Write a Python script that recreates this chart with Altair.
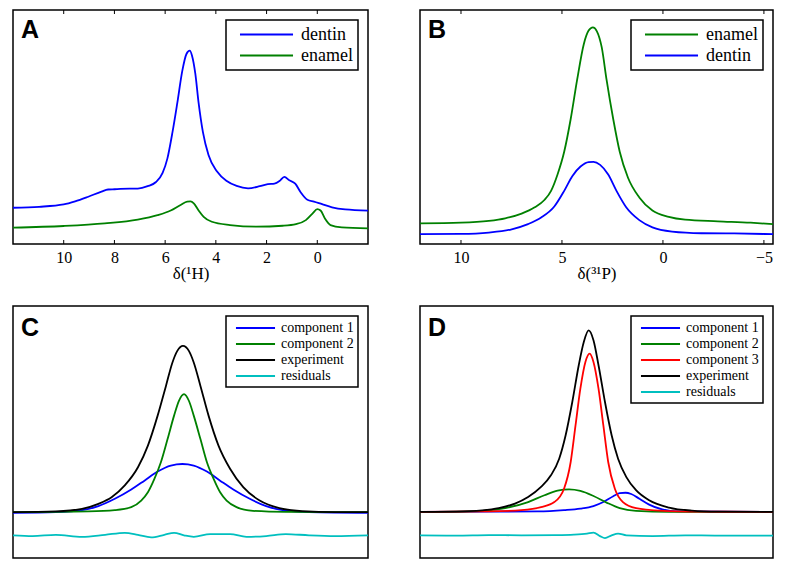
import altair as alt
import pandas as pd

# ---------------- Panel A : 1H spectra ----------------
a_dentin_x = [12.0, 10.97, 10.0, 9.55, 9.03, 8.51, 8.25, 7.99, 7.40, 7.08, 6.69, 6.36, 6.10, 5.91,
              5.71, 5.52, 5.32, 5.16, 5.03, 4.94, 4.81, 4.68, 4.51, 4.29, 3.96, 3.57, 3.18, 2.73,
              2.27, 1.95, 1.69, 1.49, 1.30, 1.10, 0.87, 0.65, 0.39, 0.13, -0.19, -0.58, -1.10, -2.0]
a_dentin_y = [15.5, 15.9, 16.9, 18.2, 20.2, 22.4, 23.3, 23.4, 23.7, 23.7, 24.7, 26.5, 30.4, 36.6,
              47.8, 60.3, 74.2, 81.2, 82.6, 80.5, 72.8, 60.3, 47.8, 38.0, 31.1, 26.9, 24.8, 23.8,
              24.7, 25.6, 25.8, 26.9, 28.7, 27.2, 25.8, 22.0, 18.9, 18.1, 17.0, 15.7, 14.8, 14.3]
a_enamel_x = [12.0, 10.0, 8.38, 7.08, 6.30, 5.78, 5.39, 5.13, 5.0, 4.87, 4.68, 4.48, 4.16, 3.44,
              2.40, 1.36, 0.84, 0.45, 0.19, 0.0, -0.13, -0.30, -0.52, -0.97, -2.0]
a_enamel_y = [7.0, 7.7, 8.8, 10.4, 12.3, 14.3, 16.7, 18.1, 18.2, 17.4, 14.3, 11.6, 9.5, 8.1,
              7.4, 7.8, 8.5, 10.2, 13.0, 14.9, 14.3, 10.9, 8.1, 7.1, 6.7]

# ---------------- Panel B : 31P spectra ----------------
b_enamel_x = [12.03, 10.0, 8.62, 7.81, 7.00, 6.35, 5.87, 5.54, 5.22, 4.89, 4.57, 4.25, 3.92, 3.68,
              3.47, 3.27, 3.03, 2.79, 2.46, 2.14, 1.73, 1.17, 0.52, -0.29, -1.10, -2.72, -4.34, -5.45]
b_enamel_y = [8.8, 9.1, 9.9, 11.0, 13.0, 15.7, 18.8, 22.7, 29.7, 39.4, 53.3, 70.1, 85.4, 91.2,
              92.6, 90.9, 84.0, 70.1, 53.3, 39.4, 28.3, 19.9, 14.3, 11.6, 10.4, 9.7, 9.1, 8.5]
b_dentin_x = [12.03, 10.0, 8.62, 7.49, 6.68, 6.03, 5.38, 4.89, 4.49, 4.08, 3.68, 3.44, 3.11, 2.71,
              2.30, 1.82, 1.17, 0.52, -0.45, -1.91, -3.53, -5.45]
b_dentin_y = [4.2, 4.3, 4.9, 6.3, 8.5, 11.3, 16.0, 22.7, 29.0, 33.1, 35.0, 35.1, 33.8, 29.7,
              22.7, 15.7, 10.2, 7.1, 5.3, 4.6, 4.5, 4.2]

# ---------------- Panel C : two-component fit ----------------
c_exp_x = [12.0, 9.89, 8.60, 7.79, 7.14, 6.49, 5.84, 5.35, 4.87, 4.46, 4.14, 3.90, 3.62, 3.33,
           3.09, 2.76, 2.36, 1.87, 1.30, 0.65, -0.16, -1.13, -2.26, -3.88, -5.5]
c_exp_y = [18.2, 18.5, 19.5, 21.5, 24.1, 28.8, 36.0, 44.6, 56.5, 68.3, 77.6, 82.2, 84.2, 82.2,
           77.6, 68.3, 56.5, 44.6, 35.4, 28.1, 22.8, 19.8, 18.6, 18.2, 18.2]
c_comp2_x = [12.0, 8.27, 6.98, 6.17, 5.68, 5.35, 5.03, 4.71, 4.38, 4.06, 3.82, 3.57, 3.33, 3.09,
             2.76, 2.44, 2.11, 1.79, 1.47, 0.98, 0.17, -1.45, -5.5]
c_comp2_y = [18.2, 18.5, 19.0, 20.2, 22.8, 26.1, 31.4, 38.0, 47.2, 56.5, 62.4, 65.0, 62.4, 56.5,
             47.2, 38.0, 31.4, 26.1, 22.8, 20.2, 18.7, 18.3, 18.2]
c_comp1_x = [12.0, 9.89, 8.60, 7.79, 6.98, 6.17, 5.52, 4.87, 4.22, 3.65, 3.09, 2.44, 1.79, 1.14,
             0.33, -0.48, -1.29, -2.59, -5.5]
c_comp1_y = [17.9, 18.2, 19.0, 20.6, 23.5, 27.2, 30.7, 34.3, 36.7, 37.3, 36.7, 34.3, 30.7, 27.2,
             23.5, 20.6, 19.0, 18.2, 17.9]
c_res_x = [12.0, 11.03, 9.89, 8.60, 7.46, 6.49, 5.84, 5.19, 4.54, 4.06, 3.57, 3.09, 2.28, 1.30,
           0.49, -0.48, -1.45, -2.59, -3.88, -5.5]
c_res_y = [9.0, 8.7, 9.2, 8.4, 9.2, 10.0, 9.2, 8.2, 9.2, 10.0, 9.0, 8.4, 9.5, 9.5,
           8.4, 8.7, 9.5, 9.0, 8.7, 9.0]

# ---------------- Panel D : three-component fit ----------------
d_exp_x = [12.0, 10.21, 8.92, 8.10, 7.29, 6.64, 6.0, 5.51, 5.10, 4.78, 4.45, 4.13, 3.88, 3.64,
           3.40, 3.15, 2.83, 2.50, 2.18, 1.77, 1.29, 0.64, -0.34, -1.47, -2.77, -5.5]
d_exp_y = [18.3, 18.4, 18.9, 19.8, 21.6, 24.2, 28.2, 32.8, 39.4, 48.7, 61.9, 76.5, 85.7, 90.3,
           86.4, 76.5, 61.9, 48.7, 39.4, 32.1, 26.9, 22.9, 20.0, 18.8, 18.4, 18.3]
d_comp3_x = [12.0, 8.59, 6.97, 6.0, 5.34, 4.86, 4.53, 4.29, 4.05, 3.80, 3.59, 3.40, 3.15, 2.91,
             2.67, 2.34, 1.94, 1.29, 0.15, -1.96, -5.5]
d_comp3_y = [18.3, 18.5, 19.0, 20.2, 22.2, 27.5, 38.1, 52.6, 67.2, 77.8, 81.1, 77.8, 67.2, 52.6,
             38.1, 27.5, 22.2, 19.8, 18.8, 18.4, 18.3]
d_comp2_x = [12.0, 9.40, 7.78, 6.64, 5.83, 5.18, 4.61, 4.05, 3.40, 2.75, 2.10, 1.29, -0.34, -5.5]
d_comp2_y = [18.3, 18.5, 19.8, 22.2, 24.9, 26.7, 27.2, 26.6, 24.6, 22.0, 19.8, 18.7, 18.3, 18.3]
d_comp1_x = [12.0, 8.59, 6.16, 4.86, 4.05, 3.40, 2.91, 2.42, 2.10, 1.81, 1.53, 1.12, 0.64, -0.01,
             -0.82, -5.5]
d_comp1_y = [18.3, 18.4, 18.5, 19.0, 19.6, 20.6, 22.2, 24.5, 25.7, 25.9, 25.4, 23.5, 21.2, 19.3,
             18.5, 18.3]
d_res_x = [12.0, 10.21, 8.59, 6.97, 5.34, 4.37, 3.72, 3.40, 3.08, 2.83, 2.50, 2.18, 1.77, 0.47,
           -1.15, -2.77, -5.5]
d_res_y = [9.0, 8.9, 9.1, 9.0, 9.1, 9.3, 9.7, 10.1, 8.7, 7.9, 9.0, 9.7, 9.0, 8.7,
           9.0, 8.9, 8.9]

a_ticks = [10, 8, 6, 4, 2, 0]
b_ticks = [10, 5, 0, -5]

BLUE, GREEN, RED, BLACK, CYAN = "#0000ff", "#008000", "#ff0000", "#000000", "#00bfbf"
SERIF = "Liberation Serif"


def frame(series):
    parts = []
    for name, xs, ys in series:
        parts.append(pd.DataFrame({"x": xs, "y": ys, "series": name}))
    return pd.concat(parts, ignore_index=True)


def panel(df, order, colors, xdom, width, height, letter, letter_y, leg, xticks=None, xtitle=None):
    xscale = alt.Scale(domain=xdom, reverse=True, nice=False, zero=False)
    yscale = alt.Scale(domain=[0, 100], nice=False, zero=False)
    if xticks is not None:
        axis = alt.Axis(values=xticks, ticks=False, domain=False, grid=False,
                        labelFont=SERIF, labelFontSize=16, labelColor="black", labelPadding=5,
                        title=xtitle, titleFont=SERIF, titleFontSize=17, titleFontWeight="normal",
                        titleColor="black", titlePadding=0)
    else:
        axis = None
    lines = alt.Chart(df).mark_line(strokeWidth=1.8, interpolate="monotone").encode(
        x=alt.X("x:Q", scale=xscale, axis=axis),
        y=alt.Y("y:Q", scale=yscale, axis=None),
        color=alt.Color("series:N", sort=order,
                        scale=alt.Scale(domain=order, range=colors),
                        legend=alt.Legend(title=None, orient="top-right", offset=10,
                                          strokeColor="black", fillColor="white",
                                          labelFont=SERIF, labelColor="black",
                                          symbolStrokeWidth=2, **leg)),
    )
    layers = [lines]
    if xticks is not None:
        tdf = pd.DataFrame({"x": xticks})
        bottom = alt.Chart(tdf).mark_rule(color="black", strokeWidth=1).encode(
            x=alt.X("x:Q", scale=xscale, axis=axis),
            y=alt.value(height - 4), y2=alt.value(height))
        top = alt.Chart(tdf).mark_rule(color="black", strokeWidth=1).encode(
            x=alt.X("x:Q", scale=xscale, axis=axis),
            y=alt.value(0), y2=alt.value(4))
        layers += [bottom, top]
    txt = alt.Chart(pd.DataFrame({"t": [letter]})).mark_text(
        font="Liberation Sans", fontWeight="bold", fontSize=25, align="left",
        baseline="alphabetic", color="black").encode(
        x=alt.value(8), y=alt.value(letter_y), text="t:N")
    layers.append(txt)
    return alt.layer(*layers).properties(width=width, height=height)


leg_top = dict(padding=5, labelFontSize=18, rowPadding=2, symbolType="M-0.06,0H6.18",
               symbolSize=289, labelOffset=51)
leg_bot = dict(padding=4, labelFontSize=14, rowPadding=1, symbolType="M-0.29,0H5.29",
               symbolSize=196, labelOffset=35)

dfA = frame([("dentin", a_dentin_x, a_dentin_y), ("enamel", a_enamel_x, a_enamel_y)])
dfB = frame([("enamel", b_enamel_x, b_enamel_y), ("dentin", b_dentin_x, b_dentin_y)])
dfC = frame([("component 1", c_comp1_x, c_comp1_y), ("component 2", c_comp2_x, c_comp2_y),
             ("experiment", c_exp_x, c_exp_y), ("residuals", c_res_x, c_res_y)])
dfD = frame([("component 1", d_comp1_x, d_comp1_y), ("component 2", d_comp2_x, d_comp2_y),
             ("component 3", d_comp3_x, d_comp3_y), ("experiment", d_exp_x, d_exp_y),
             ("residuals", d_res_x, d_res_y)])

W1, W2 = 355, 353
pA = panel(dfA, ["dentin", "enamel"], [BLUE, GREEN], [-2, 12], W1, 234, "A", 28, leg_top,
           a_ticks, "δ(¹H)")
pB = panel(dfB, ["enamel", "dentin"], [GREEN, BLUE], [-5.45, 12.03], W2, 234, "B", 28, leg_top,
           b_ticks, "δ(³¹P)")
pC = panel(dfC, ["component 1", "component 2", "experiment", "residuals"],
           [BLUE, GREEN, BLACK, CYAN], [-5.5, 12.0], W1, 252, "C", 30, leg_bot)
pD = panel(dfD, ["component 1", "component 2", "component 3", "experiment", "residuals"],
           [BLUE, GREEN, RED, BLACK, CYAN], [-5.5, 12.0], W2, 252, "D", 30, leg_bot)


def hrow(a, b):
    return alt.hconcat(a, b, spacing=42).resolve_scale(
        color="independent", x="independent", y="independent").resolve_legend(color="independent")


chart = alt.vconcat(hrow(pA, pB), hrow(pC, pD), spacing=23,
                    padding={"left": 0, "right": 0, "top": 0, "bottom": 0}).resolve_scale(
    color="independent", x="independent", y="independent").resolve_legend(
    color="independent").configure_view(
    stroke="black", strokeWidth=1.5).configure_legend(strokeWidth=1.5)

chart.save("out.html", embed_options={"renderer": "svg", "actions": False})
